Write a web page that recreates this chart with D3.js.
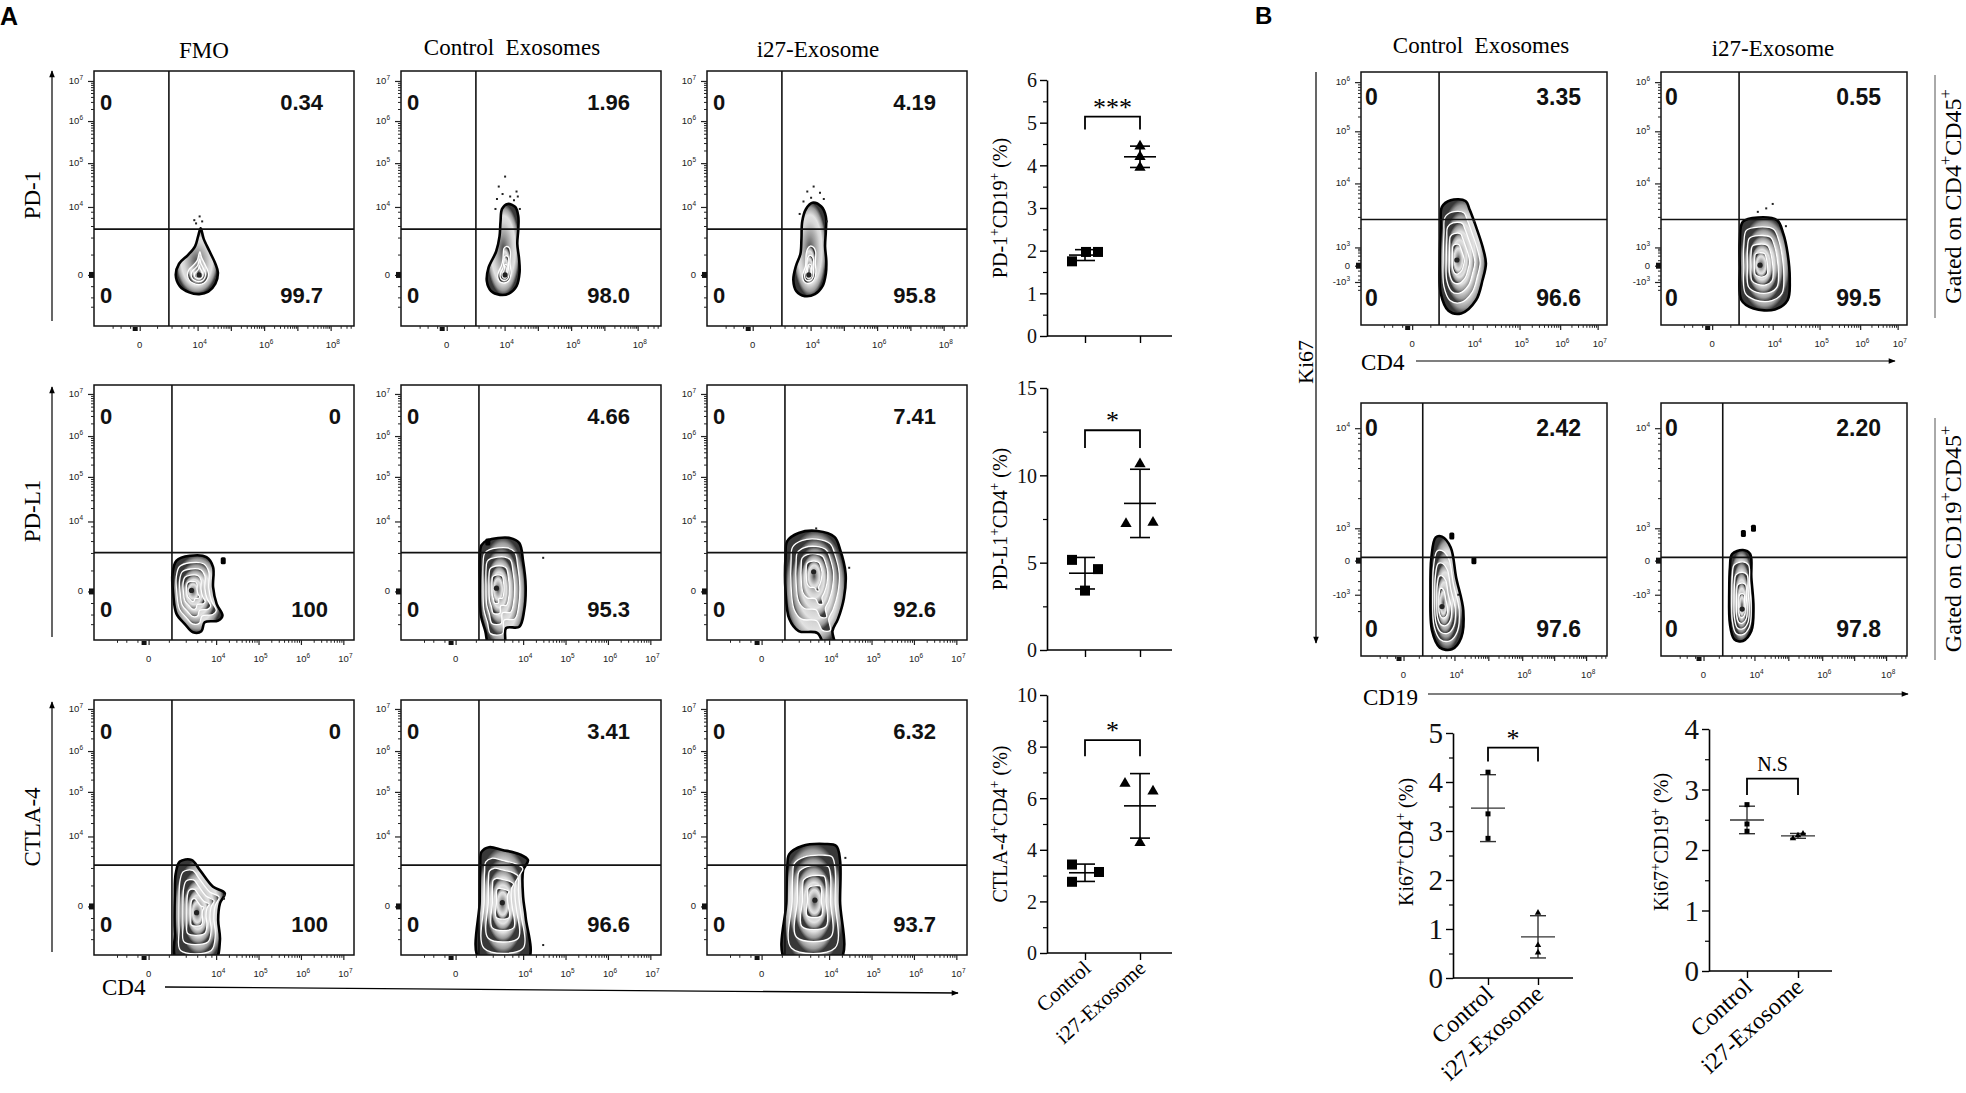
<!DOCTYPE html>
<html>
<head>
<meta charset="utf-8">
<script src="https://cdn.jsdelivr.net/npm/d3@7/dist/d3.min.js"></script>
<style>
body { margin: 0; background: #fff; }
svg { display: block; }
</style>
</head>
<body>
<script>
var w = 1966;
var h = 1093;

// captions
var titlesA = ["FMO", "Control  Exosomes", "i27-Exosome"];
var titlesB = ["Control  Exosomes", "i27-Exosome"];
var markersA = ["PD-1", "PD-L1", "CTLA-4"];
var groups = ["Control", "i27-Exosome"];

// quadrant percentages: upper-left, upper-right, lower-left, lower-right
var quadA = [
  [["0", "0.34", "0", "99.7"], ["0", "1.96", "0", "98.0"], ["0", "4.19", "0", "95.8"]],
  [["0", "0", "0", "100"], ["0", "4.66", "0", "95.3"], ["0", "7.41", "0", "92.6"]],
  [["0", "0", "0", "100"], ["0", "3.41", "0", "96.6"], ["0", "6.32", "0", "93.7"]]
];
var quadB = [
  [["0", "3.35", "0", "96.6"], ["0", "0.55", "0", "99.5"]],
  [["0", "2.42", "0", "97.6"], ["0", "2.20", "0", "97.8"]]
];

// cytometer axes, channel units 0-1024: where zero and each decade sit
var axPD1x = {zero: 180, dec: [[4, 408], [5, 539], [6, 670], [7, 801], [8, 932]], lab: [4, 6, 8]};
var axPD1y = {zero: 205, dec: [[4, 478], [5, 654], [6, 823], [7, 984]], lab: [4, 5, 6, 7]};
var axCD4x = {zero: 215, dec: [[4, 481], [5, 648], [6, 815], [7, 982]], lab: [4, 5, 6, 7]};
var axMarkY = {zero: 195, dec: [[4, 476], [5, 655], [6, 819], [7, 988]], lab: [4, 5, 6, 7]};
var axKiCD4x = {zero: 213, dec: [[4, 465], [5, 660], [6, 829], [7, 985]], lab: [4, 5, 6, 7]};
var axKiY1 = {zero: 240, neg: 174, dec: [[3, 314], [4, 573], [5, 784], [6, 983]], lab: [3, 4, 5, 6]};
var axCD19x = {zero: 177, dec: [[4, 389], [5, 530], [6, 671], [7, 804], [8, 937]], lab: [4, 6, 8]};
var axKiY2 = {zero: 386, neg: 248, dec: [[3, 517], [4, 922]], lab: [3, 4]};

// quadrant gates [x, y] in channels
var gatesA = [[295, 389], [307, 351], [307, 361]];
var gatesB = [[325, 427], [257, 399]];

// population outlines (channels)
var blobsA = [
  [
    {shape: [[420,392],[432,350],[455,300],[478,250],[488,215],[478,170],[450,138],[415,128],[375,135],[338,160],[322,205],[335,250],[370,285],[398,320],[410,360]],
     core: [414, 205], rings: [1, 0.5, 0.34, 0.2], dots: [[402,412],[426,420],[416,440],[395,425]]},
    {shape: [[420,490],[450,478],[462,440],[462,390],[458,330],[465,270],[467,215],[455,160],[425,130],[390,125],[355,140],[338,180],[345,235],[375,300],[388,360],[392,420],[398,470]],
     core: [410, 205], rings: [1, 0.4, 0.27, 0.15], dots: [[385,560],[400,530],[430,520],[455,540],[445,505],[460,520],[410,600],[378,510],[372,470],[468,470]]},
    {shape: [[415,495],[450,480],[468,440],[468,380],[465,320],[470,260],[468,210],[455,160],[425,128],[385,120],[352,140],[340,185],[350,240],[368,290],[372,350],[375,420],[390,470]],
     core: [401, 205], rings: [1, 0.4, 0.27, 0.15], dots: [[395,540],[420,560],[445,535],[410,515],[380,500],[460,510],[365,450],[472,420]]}
  ],
  [
    {shape: [[325,319],[377,338],[443,333],[469,293],[469,212],[483,145],[506,98],[489,78],[436,71],[423,35],[390,31],[358,64],[325,105],[312,185],[309,266]],
     core: [384, 199], big: [[509, 318]]},
    {shape: [[317,381],[339,400],[429,410],[466,389],[481,315],[491,217],[485,118],[466,53],[414,48],[406,-20],[347,-20],[332,36],[314,102],[310,233],[310,331]],
     core: [376, 208], big: [[342, 394]], dots: [[560,330]]},
    {shape: [[316,397],[361,430],[435,438],[502,414],[524,364],[546,266],[539,167],[516,85],[494,36],[502,-20],[464,-20],[435,28],[361,36],[324,85],[309,200],[309,331]],
     core: [420, 274], dots: [[430,448],[560,290]]}
  ],
  [
    {shape: [[338,375],[384,382],[417,341],[469,274],[515,248],[496,207],[489,141],[496,60],[476,-20],[325,-20],[318,87],[318,234],[322,328]],
     core: [404, 170], dots: [[512,240],[512,226]]},
    {shape: [[317,414],[347,433],[399,422],[466,405],[500,381],[481,340],[481,233],[491,151],[500,-20],[310,-20],[310,217],[312,364]],
     core: [399, 210], dots: [[560,40]]},
    {shape: [[324,405],[375,438],[464,446],[509,438],[524,381],[524,217],[524,-20],[309,-20],[313,217],[316,348]],
     core: [425, 220], dots: [[545,390]]}
  ]
];
var blobsB = [
  [
    {shape: [[337,478],[373,505],[435,502],[453,465],[479,397],[506,317],[520,249],[506,182],[479,101],[417,47],[364,58],[332,128],[328,263],[332,397]],
     core: [399, 263], dots: [[470,420]]},
    {shape: [[341,418],[403,435],[483,424],[509,370],[527,290],[536,182],[527,101],[474,63],[385,67],[335,101],[328,236],[328,343]],
     core: [412, 242], dots: [[403,458],[438,472],[465,490],[520,400]]}
  ],
  [
    {shape: [[311,480],[337,483],[373,440],[396,318],[426,183],[417,74],[378,27],[328,34],[296,101],[289,264],[293,399]],
     core: [337, 200], big: [[378, 486], [470, 386]], dots: [[405,248]]},
    {shape: [[296,413],[341,429],[371,413],[376,318],[385,196],[376,101],[341,61],[305,68],[287,129],[284,264],[287,359]],
     core: [338, 190], big: [[343, 496], [385, 517]]}
  ]
];

// summary dot plots (%)
var pd1Ctrl = [1.75, 1.97, 1.97];
var pd1I27 = [4.45, 4.2, 3.95];
var pdl1Ctrl = [5.16, 4.63, 3.4];
var pdl1I27 = [10.65, 7.23, 7.3];
var ctla4Ctrl = [3.43, 2.76, 3.14];
var ctla4I27 = [6.57, 6.27, 4.27];
var ki67cd4Ctrl = [4.2, 3.35, 2.85];
var ki67cd4I27 = [1.33, 0.67, 0.52];
var ki67cd19Ctrl = [2.75, 2.43, 2.31];
var ki67cd19I27 = [2.27, 2.19, 2.24];

var serif = "'Liberation Serif', 'Times New Roman', serif";
var sans = "'Liberation Sans', Arial, sans-serif";

var svg = d3.select("body")
  .append("svg")
  .attr("width", w)
  .attr("height", h)
  .style("font-family", serif);

var defs = svg.append("defs");
// zebra shading: dark rim, light band inside, darker core
var grad = defs.append("radialGradient").attr("id", "zebra");
[[0, "#4a4a4a"], [0.3, "#999"], [0.6, "#d6d6d6"], [0.74, "#e2e2e2"], [0.9, "#9a9a9a"], [1, "#383838"]].forEach(function(s) {
  grad.append("stop").attr("offset", s[0]).attr("stop-color", s[1]);
});
defs.append("marker")
  .attr("id", "arrow")
  .attr("viewBox", "0 0 10 10")
  .attr("refX", 9).attr("refY", 5)
  .attr("markerWidth", 9).attr("markerHeight", 7)
  .attr("markerUnits", "userSpaceOnUse")
  .attr("orient", "auto")
  .append("path").attr("d", "M0,1L10,5L0,9z").attr("fill", "#000");

// text with superscript parts: [text, isSup]
function richText(sel, parts, size) {
  var wasSup = false;
  parts.forEach(function(p) {
    var t = sel.append("tspan").text(p[0]);
    if (p[1]) {
      t.attr("font-size", size * 0.68).attr("dy", -size * 0.42);
      wasSup = true;
    } else if (wasSup) {
      t.attr("dy", size * 0.42);
      wasSup = false;
    }
  });
  return sel;
}

function flowTicks(spec) {
  var major = [spec.zero].concat(spec.dec.map(function(d) { return d[1]; }));
  if (spec.neg != null) major.push(spec.neg);
  var minor = [];
  var logs = d3.range(2, 10).map(function(k) { return Math.log10(k); });
  for (var i = 0; i < spec.dec.length - 1; i++) {
    var a = spec.dec[i][1], b = spec.dec[i + 1][1];
    logs.forEach(function(f) { minor.push(a + f * (b - a)); });
  }
  var n = spec.dec.length;
  var last = spec.dec[n - 1][1];
  var step = n > 1 ? last - spec.dec[n - 2][1] : 150;
  logs.forEach(function(f) { if (last + f * step < 1022) minor.push(last + f * step); });
  var gap = spec.dec[0][1] - spec.zero;
  [0.3, 0.55, 0.72, 0.84, 0.93].forEach(function(f) { minor.push(spec.zero + f * gap); });
  var lo = spec.neg != null ? spec.neg : spec.zero - gap * 0.55;
  [0.3, 0.6, 0.85].forEach(function(f) { minor.push(spec.zero - f * (spec.zero - lo)); });
  if (spec.neg != null) [0.4, 0.8].forEach(function(f) { minor.push(lo - f * (spec.zero - lo) * 0.6); });
  minor = minor.filter(function(v) { return v > 2; });
  return {major: major, minor: minor};
}

function flowLabels(spec) {
  var out = [{v: spec.zero, parts: [["0"]], kind: "zero"}];
  spec.dec.forEach(function(d) {
    if (spec.lab.indexOf(d[0]) >= 0) out.push({v: d[1], parts: [["10"], [String(d[0]), 1]], kind: "pow"});
  });
  if (spec.neg != null) out.push({v: spec.neg, parts: [["-10"], ["3", 1]], kind: "neg"});
  return out;
}

function drawBlob(g, xs, ys, blob) {
  var line = d3.line()
    .x(function(d) { return xs(d[0]); })
    .y(function(d) { return ys(d[1]); })
    .curve(d3.curveCatmullRomClosed.alpha(0.5));
  var cx = xs(blob.core[0]), cy = ys(blob.core[1]);
  var path = line(blob.shape);
  (blob.rings || [1, 0.8, 0.62, 0.44, 0.26]).forEach(function(k, i) {
    g.append("path")
      .attr("d", path)
      .attr("transform", "translate(" + cx + "," + cy + ") scale(" + k + ") translate(" + (-cx) + "," + (-cy) + ")")
      .attr("fill", "url(#zebra)")
      .attr("stroke", i == 0 ? "#000" : "#fff")
      .attr("stroke-width", i == 0 ? 2.6 : 1.3)
      .attr("vector-effect", "non-scaling-stroke");
  });
  g.append("circle").attr("cx", cx).attr("cy", cy).attr("r", 2.6).attr("fill", "#222");
  (blob.dots || []).forEach(function(p) {
    g.append("rect")
      .attr("x", xs(p[0]) - 1).attr("y", ys(p[1]) - 1)
      .attr("width", 2).attr("height", 2)
      .attr("fill", "#222");
  });
  (blob.big || []).forEach(function(p) {
    g.append("rect")
      .attr("x", xs(p[0]) - 2.5).attr("y", ys(p[1]) - 3.5)
      .attr("width", 5).attr("height", 7).attr("rx", 1.5)
      .attr("fill", "#000");
  });
}

var clipCount = 0;
function flowPlot(x0, y0, bw, bh, axX, axY, gate, quad, blob, qpos) {
  var xs = d3.scaleLinear().domain([0, 1024]).range([x0, x0 + bw]);
  var ys = d3.scaleLinear().domain([0, 1024]).range([y0 + bh, y0]);
  var g = svg.append("g");
  var id = "clip" + (clipCount++);
  g.append("clipPath").attr("id", id)
    .append("rect").attr("x", x0).attr("y", y0).attr("width", bw).attr("height", bh);
  var plot = g.append("g").attr("clip-path", "url(#" + id + ")");
  drawBlob(plot, xs, ys, blob);

  plot.append("line")
    .attr("x1", xs(gate[0])).attr("x2", xs(gate[0]))
    .attr("y1", y0).attr("y2", y0 + bh)
    .attr("stroke", "#111").attr("stroke-width", 1.6);
  plot.append("line")
    .attr("x1", x0).attr("x2", x0 + bw)
    .attr("y1", ys(gate[1])).attr("y2", ys(gate[1]))
    .attr("stroke", "#111").attr("stroke-width", 1.6);

  g.append("rect")
    .attr("x", x0).attr("y", y0).attr("width", bw).attr("height", bh)
    .attr("fill", "none").attr("stroke", "#111").attr("stroke-width", 1.5);

  // x axis
  var tx = flowTicks(axX);
  g.append("g").attr("transform", "translate(0," + (y0 + bh) + ")")
    .call(d3.axisBottom(xs).tickValues(tx.major).tickSize(5).tickFormat(""))
    .call(function(a) { a.select(".domain").remove(); a.selectAll("line").attr("stroke", "#222").attr("stroke-width", 1.2); });
  g.append("g").attr("transform", "translate(0," + (y0 + bh) + ")")
    .call(d3.axisBottom(xs).tickValues(tx.minor).tickSize(2.8).tickFormat(""))
    .call(function(a) { a.select(".domain").remove(); a.selectAll("line").attr("stroke", "#222"); });
  flowLabels(axX).forEach(function(l) {
    var t = g.append("text")
      .attr("y", y0 + bh + 22)
      .attr("font-family", sans).attr("font-size", 9.5).attr("fill", "#222");
    if (l.kind == "zero") t.attr("x", xs(l.v)).attr("text-anchor", "middle");
    else t.attr("x", xs(l.v) - (l.kind == "neg" ? 8 : 5));
    richText(t, l.parts, 9.5);
  });
  g.append("rect").attr("x", xs(axX.zero) - 7).attr("y", y0 + bh + 1).attr("width", 5).attr("height", 4).attr("fill", "#111");

  // y axis
  var ty = flowTicks(axY);
  g.append("g").attr("transform", "translate(" + x0 + ",0)")
    .call(d3.axisLeft(ys).tickValues(ty.major).tickSize(6).tickFormat(""))
    .call(function(a) { a.select(".domain").remove(); a.selectAll("line").attr("stroke", "#222").attr("stroke-width", 1.2); });
  g.append("g").attr("transform", "translate(" + x0 + ",0)")
    .call(d3.axisLeft(ys).tickValues(ty.minor).tickSize(3).tickFormat(""))
    .call(function(a) { a.select(".domain").remove(); a.selectAll("line").attr("stroke", "#222"); });
  flowLabels(axY).forEach(function(l) {
    var t = g.append("text")
      .attr("x", x0 - 11).attr("y", ys(l.v) + 3)
      .attr("text-anchor", "end")
      .attr("font-family", sans).attr("font-size", 9.5).attr("fill", "#222");
    richText(t, l.parts, 9.5);
  });
  g.append("rect").attr("x", x0 - 5).attr("y", ys(axY.zero) - 3).attr("width", 5).attr("height", 6).attr("fill", "#111");

  // quadrant percentages
  var q = g.append("g").attr("font-family", sans).attr("font-weight", "bold").attr("font-size", qpos.size).attr("fill", "#111");
  q.append("text").attr("x", x0 + qpos.left).attr("y", y0 + qpos.top).text(quad[0]);
  q.append("text").attr("x", x0 + (qpos.rightUR || qpos.right)).attr("y", y0 + qpos.top).attr("text-anchor", "end").text(quad[1]);
  q.append("text").attr("x", x0 + qpos.left).attr("y", y0 + qpos.bottom).text(quad[2]);
  q.append("text").attr("x", x0 + (qpos.rightLR || qpos.right)).attr("y", y0 + qpos.bottom).attr("text-anchor", "end").text(quad[3]);
}

function dotPlot(c) {
  var y = d3.scaleLinear().domain([0, c.max]).range([c.y0, c.yTop]);
  var x = d3.scalePoint().domain(groups).range([c.t1, c.t2]);
  var g = svg.append("g");

  g.append("g").attr("transform", "translate(" + c.ax + ",0)")
    .call(d3.axisLeft(y).tickValues(c.major).tickSize(7).tickPadding(3).tickSizeOuter(0).tickFormat(d3.format("d")))
    .call(function(a) {
      a.select(".domain").attr("stroke-width", 1.6);
      a.selectAll("line").attr("stroke-width", 1.4);
      a.selectAll("text").attr("font-family", serif).attr("font-size", c.tf).attr("fill", "#111").attr("dy", "0.34em");
    });
  g.append("g").attr("transform", "translate(" + c.ax + ",0)")
    .call(d3.axisLeft(y).tickValues(c.minor).tickSize(4).tickFormat(""))
    .call(function(a) { a.select(".domain").remove(); a.selectAll("line").attr("stroke-width", 1.2); });

  g.append("line")
    .attr("x1", c.ax).attr("x2", c.xEnd).attr("y1", c.y0).attr("y2", c.y0)
    .attr("stroke", "#000").attr("stroke-width", 1.6);
  g.append("g").attr("transform", "translate(0," + c.y0 + ")")
    .call(d3.axisBottom(x).tickSize(7).tickFormat(""))
    .call(function(a) { a.select(".domain").remove(); a.selectAll("line").attr("stroke-width", 1.4); });

  // points, mean and SD
  [c.ctrl, c.i27].forEach(function(vals, gi) {
    var cx = x(groups[gi]);
    var m = d3.mean(vals), sd = d3.deviation(vals);
    var eg = g.append("g").attr("stroke", c.lineColor).attr("stroke-width", c.lw);
    eg.append("line").attr("x1", cx).attr("x2", cx).attr("y1", y(m - sd)).attr("y2", y(m + sd));
    eg.append("line").attr("x1", cx - c.capHalf).attr("x2", cx + c.capHalf).attr("y1", y(m + sd)).attr("y2", y(m + sd));
    eg.append("line").attr("x1", cx - c.capHalf).attr("x2", cx + c.capHalf).attr("y1", y(m - sd)).attr("y2", y(m - sd));
    eg.append("line").attr("x1", cx - c.meanHalf).attr("x2", cx + c.meanHalf).attr("y1", y(m)).attr("y2", y(m));
    vals.forEach(function(v, i) {
      var px = cx + c.jit[gi][i], py = y(v);
      if (gi == 0) {
        g.append("rect").attr("x", px - c.sq / 2).attr("y", py - c.sq / 2)
          .attr("width", c.sq).attr("height", c.sq).attr("fill", "#000");
      } else {
        g.append("path").attr("d", d3.symbol(d3.symbolTriangle, c.tri)())
          .attr("transform", "translate(" + px + "," + py + ")").attr("fill", "#000");
      }
    });
  });

  // significance bracket
  g.append("path")
    .attr("d", "M" + c.t1 + "," + y(c.br[1]) + "V" + y(c.br[0]) + "H" + c.t2 + "V" + y(c.br[1]))
    .attr("fill", "none").attr("stroke", "#000").attr("stroke-width", 1.8);
  g.append("text")
    .attr("x", (c.t1 + c.t2) / 2).attr("y", y(c.br[0]) - c.sigOff)
    .attr("text-anchor", "middle").attr("font-size", c.sf)
    .text(c.sig);

  var lab = g.append("text")
    .attr("transform", "translate(" + c.labX + "," + c.labY + ") rotate(-90)")
    .attr("text-anchor", "middle").attr("font-size", c.lf);
  richText(lab, c.label, c.lf);

  if (c.cats) {
    groups.forEach(function(gr) {
      g.append("text")
        .attr("transform", "translate(" + (x(gr) + c.catDx) + "," + (c.y0 + c.catDy) + ") rotate(-42)")
        .attr("text-anchor", "end").attr("font-size", c.cf)
        .text(gr);
    });
  }
}

// ---------- panel A ----------
var colA = [94, 401, 707];
var rowA = [71, 385, 700];
var titleYA = [58, 55, 57];
var titleXA = [204, 512, 818];
var axesA = [[axPD1x, axPD1y], [axCD4x, axMarkY], [axCD4x, axMarkY]];

svg.append("text").attr("x", 0).attr("y", 25)
  .attr("font-family", sans).attr("font-weight", "bold").attr("font-size", 25).text("A");

titlesA.forEach(function(t, i) {
  svg.append("text").attr("x", titleXA[i]).attr("y", titleYA[i])
    .attr("text-anchor", "middle").attr("font-size", 23).style("white-space", "pre").text(t);
});

var rowLabY = [195, 511, 827];
var rowArrow = [[321, 71], [637, 387], [952, 702]];
markersA.forEach(function(m, r) {
  svg.append("text")
    .attr("transform", "translate(40," + rowLabY[r] + ") rotate(-90)")
    .attr("text-anchor", "middle").attr("font-size", 23).text(m);
  svg.append("line")
    .attr("x1", 52).attr("x2", 52).attr("y1", rowArrow[r][0]).attr("y2", rowArrow[r][1])
    .attr("stroke", "#000").attr("stroke-width", 1.2).attr("marker-end", "url(#arrow)");
  for (var c = 0; c < 3; c++) {
    var qp = {size: 22, left: 6, right: 229, top: 39, bottom: 232};
    if (r > 0 && c == 0) { qp.rightUR = 247; qp.rightLR = 234; }
    flowPlot(colA[c], rowA[r], 260, 255, axesA[r][0], axesA[r][1], gatesA[r], quadA[r][c], blobsA[r][c], qp);
  }
});

svg.append("text").attr("x", 102).attr("y", 995).attr("font-size", 23).text("CD4");
svg.append("line").attr("x1", 165).attr("y1", 987).attr("x2", 958).attr("y2", 993)
  .attr("stroke", "#000").attr("stroke-width", 1.3).attr("marker-end", "url(#arrow)");

// ---------- panel B ----------
var colB = [1361, 1661];
var rowB = [72, 403];
var axesB = [[axKiCD4x, axKiY1], [axCD19x, axKiY2]];

svg.append("text").attr("x", 1255).attr("y", 24)
  .attr("font-family", sans).attr("font-weight", "bold").attr("font-size", 24).text("B");

var titleXB = [1481, 1773];
var titleYB = [53, 56];
titlesB.forEach(function(t, i) {
  svg.append("text").attr("x", titleXB[i]).attr("y", titleYB[i])
    .attr("text-anchor", "middle").attr("font-size", 23).style("white-space", "pre").text(t);
});

for (var r = 0; r < 2; r++) {
  for (var c = 0; c < 2; c++) {
    flowPlot(colB[c], rowB[r], 246, 253, axesB[r][0], axesB[r][1], gatesB[r], quadB[r][c], blobsB[r][c],
      {size: 23, left: 4, right: 220, top: 33, bottom: 234});
  }
}

// Ki67 axis caption and arrows
svg.append("line").attr("x1", 1316).attr("x2", 1316).attr("y1", 72).attr("y2", 643)
  .attr("stroke", "#000").attr("stroke-width", 1.2).attr("marker-end", "url(#arrow)");
svg.append("text").attr("transform", "translate(1313,362) rotate(-90)")
  .attr("text-anchor", "middle").attr("font-size", 22).text("Ki67");
svg.append("text").attr("x", 1361).attr("y", 370).attr("font-size", 23).text("CD4");
svg.append("line").attr("x1", 1416).attr("x2", 1895).attr("y1", 361).attr("y2", 361)
  .attr("stroke", "#000").attr("stroke-width", 1.2).attr("marker-end", "url(#arrow)");
svg.append("text").attr("x", 1363).attr("y", 705).attr("font-size", 23).text("CD19");
svg.append("line").attr("x1", 1428).attr("x2", 1908).attr("y1", 694).attr("y2", 694)
  .attr("stroke", "#000").attr("stroke-width", 1.2).attr("marker-end", "url(#arrow)");

var gatedText = [
  [["Gated on CD4"], ["+", 1], ["CD45"], ["+", 1]],
  [["Gated on CD19"], ["+", 1], ["CD45"], ["+", 1]]
];
var gatedSpan = [[75, 318], [418, 660]];
gatedText.forEach(function(parts, i) {
  svg.append("line").attr("x1", 1935).attr("x2", 1935)
    .attr("y1", gatedSpan[i][0]).attr("y2", gatedSpan[i][1])
    .attr("stroke", "#555").attr("stroke-width", 1);
  var t = svg.append("text")
    .attr("transform", "translate(1961," + (gatedSpan[i][0] + gatedSpan[i][1]) / 2 + ") rotate(-90)")
    .attr("text-anchor", "middle").attr("font-size", 24);
  richText(t, parts, 24);
});

// ---------- dot plots ----------
var baseA = {ax: 1047, t1: 1085, t2: 1140, xEnd: 1172, labX: 1007, tf: 20, lf: 20, cf: 21, sf: 26,
  sq: 10, tri: 55, meanHalf: 16, capHalf: 10, lw: 1.6, lineColor: "#000", sigOff: 1, catDx: 7, catDy: 17};

dotPlot(Object.assign({}, baseA, {
  ctrl: pd1Ctrl, i27: pd1I27, jit: [[-13, 1, 13], [0, 0, 0]],
  max: 6, major: [0, 1, 2, 3, 4, 5, 6], minor: [0.5, 1.5, 2.5, 3.5, 4.5, 5.5],
  y0: 336, yTop: 80, labY: 208, br: [5.14, 4.84], sig: "***",
  label: [["PD-1"], ["+", 1], ["CD19"], ["+", 1], [" (%)"]], cats: false
}));
dotPlot(Object.assign({}, baseA, {
  ctrl: pdl1Ctrl, i27: pdl1I27, jit: [[-13, 13, 0], [0, -14, 13]],
  max: 15, major: [0, 5, 10, 15], minor: [2.5, 7.5, 12.5],
  y0: 650, yTop: 388, labY: 519, br: [12.58, 11.57], sig: "*",
  label: [["PD-L1"], ["+", 1], ["CD4"], ["+", 1], [" (%)"]], cats: false
}));
dotPlot(Object.assign({}, baseA, {
  ctrl: ctla4Ctrl, i27: ctla4I27, jit: [[-13, -13, 14], [-15, 13, 0]],
  max: 10, major: [0, 2, 4, 6, 8, 10], minor: [1, 3, 5, 7, 9],
  y0: 953, yTop: 695, labY: 824, br: [8.25, 7.63], sig: "*",
  label: [["CTLA-4"], ["+", 1], ["CD4"], ["+", 1], [" (%)"]], cats: true
}));

var baseB = {tf: 29, lf: 20, cf: 24, sf: 26, sq: 5, tri: 18, meanHalf: 17, capHalf: 8, lw: 1.4,
  lineColor: "#333", sigOff: 1, catDx: 7, catDy: 18, labY: 842, cats: true};
dotPlot(Object.assign({}, baseB, {
  ax: 1453, t1: 1488, t2: 1538, xEnd: 1573, labX: 1413,
  ctrl: ki67cd4Ctrl, i27: ki67cd4I27, jit: [[0, 0, 0], [0, 0, 0]],
  max: 5, major: [0, 1, 2, 3, 4, 5], minor: [0.5, 1.5, 2.5, 3.5, 4.5],
  y0: 978, yTop: 733, br: [4.7, 4.42], sig: "*",
  label: [["Ki67"], ["+", 1], ["CD4"], ["+", 1], [" (%)"]]
}));
dotPlot(Object.assign({}, baseB, {
  ax: 1709, t1: 1747, t2: 1798, xEnd: 1832, labX: 1668,
  ctrl: ki67cd19Ctrl, i27: ki67cd19I27, jit: [[0, 0, 0], [5, -5, 0]],
  max: 4, major: [0, 1, 2, 3, 4], minor: [0.5, 1.5, 2.5, 3.5],
  y0: 971, yTop: 729, br: [3.18, 2.91], sig: "N.S", sf: 20, sigOff: 8,
  label: [["Ki67"], ["+", 1], ["CD19"], ["+", 1], [" (%)"]]
}));
</script>
</body>
</html>
